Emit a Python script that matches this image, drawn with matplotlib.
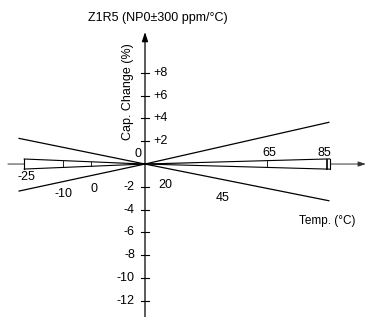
import numpy as np
import matplotlib
matplotlib.use("Agg")
from matplotlib import pyplot as plt

plt.rcParams["font.family"] = ["Liberation Sans", "DejaVu Sans"]

# temperature (degC) vs capacitance change (%)
ref_temp = 20
line_a_temp = [-26.3, 20, 87.6]
line_a_pct = [2.25, 0, -3.22]
line_b_temp = [-26.3, 20, 87.6]
line_b_pct = [-2.37, 0, 3.66]

wedge_temp = np.array([-24.4, 20, 87.9])
wedge_half = np.array([0.44, 0, 0.45])
mark_temps = [-10, 0, 65, 86.5, 86.9]

ytick_pos = [8, 6, 4, 2]
ytick_neg = [-2, -4, -6, -8, -10, -12]

title = "Z1R5 (NP0\u00b1300 ppm/\u00b0C)"

# %%
fig = plt.figure(figsize=(3.67, 3.17), dpi=100)
ax = fig.add_axes([0, 0, 1, 1])
ax.set_xlim(-33.31, 101.62)
ax.set_ylim(-13.42, 14.39)
ax.axis("off")

fs = 9

# axes with arrows
ax.annotate(
    "",
    xy=(101.2, 0),
    xytext=(-30.4, 0),
    arrowprops=dict(arrowstyle="-|>,head_length=0.45,head_width=0.15", color="#333333", lw=0.7,
                    shrinkA=0, shrinkB=0, mutation_scale=10),
    zorder=1,
)
ax.annotate(
    "",
    xy=(ref_temp, 11.58),
    xytext=(ref_temp, -13.42),
    arrowprops=dict(arrowstyle="-|>,head_length=0.55,head_width=0.18", color="k", lw=0.9,
                    shrinkA=0, shrinkB=0, mutation_scale=10),
    zorder=4,
)

# y ticks
for v in ytick_pos + ytick_neg:
    ax.plot([ref_temp - 1.3, ref_temp + 1.3], [v, v], color="k", lw=0.8, zorder=4)
for v in ytick_pos:
    ax.text(22.9, v, "+%d" % v, ha="left", va="center", fontsize=fs)
for v in ytick_neg:
    ax.text(16.3, v, "%d" % v, ha="right", va="center", fontsize=fs)

# wedge (tolerance band)
ax.fill_between(wedge_temp, -wedge_half, wedge_half, color="white", zorder=2, lw=0)
ax.plot(wedge_temp, wedge_half, color="k", lw=0.8, zorder=3)
ax.plot(wedge_temp, -wedge_half, color="k", lw=0.8, zorder=3)
for i in [0, -1]:
    ax.plot([wedge_temp[i]] * 2, [-wedge_half[i], wedge_half[i]], color="k", lw=0.8, zorder=3)
for t in mark_temps:
    h = np.interp(t, wedge_temp, wedge_half)
    ax.plot([t, t], [-h, h], color="k", lw=0.6, zorder=3)

# +/- 300 ppm lines
ax.plot(line_a_temp, line_a_pct, color="k", lw=0.9, zorder=3)
ax.plot(line_b_temp, line_b_pct, color="k", lw=0.9, zorder=3)

# temperature labels
ax.text(-23.75, -1.18, "-25", ha="center", va="center", fontsize=fs)
ax.text(-9.78, -2.59, "-10", ha="center", va="center", fontsize=fs)
ax.text(1.25, -2.19, "0", ha="center", va="center", fontsize=fs)
ax.text(27.35, -1.84, "20", ha="center", va="center", fontsize=fs)
ax.text(48.7, -2.94, "45", ha="center", va="center", fontsize=fs)
ax.text(65.6, 0.96, "65", ha="center", va="center", fontsize=fs)
ax.text(85.8, 0.96, "85", ha="center", va="center", fontsize=fs)
ax.text(17.4, 0.92, "0", ha="center", va="center", fontsize=fs)

ax.text(24.8, 12.81, title, ha="center", va="center", fontsize=9)
ax.text(13.57, 6.36, "Cap. Change (%)", ha="center", va="center", rotation=90, fontsize=9)
ax.text(87.1, -5.0, "Temp. (\u00b0C)", ha="center", va="center", fontsize=8.5)

fig.savefig("out.png", dpi=100, facecolor="white")
